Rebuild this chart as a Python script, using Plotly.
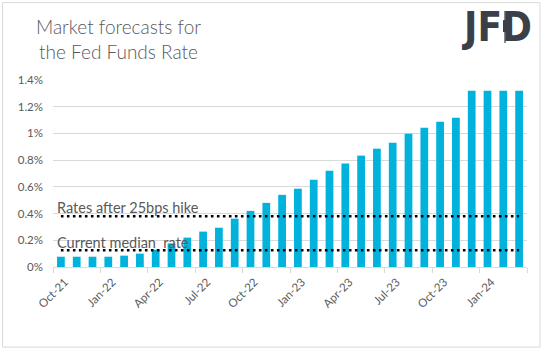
import plotly.graph_objects as go

months = ["Oct-21","Nov-21","Dec-21","Jan-22","Feb-22","Mar-22","Apr-22","May-22","Jun-22",
          "Jul-22","Aug-22","Sep-22","Oct-22","Nov-22","Dec-22","Jan-23","Feb-23","Mar-23",
          "Apr-23","May-23","Jun-23","Jul-23","Aug-23","Sep-23","Oct-23","Nov-23","Dec-23",
          "Jan-24","Feb-24","Mar-24"]
rates = [0.077,0.077,0.077,0.077,0.085,0.10,0.13,0.177,0.22,0.265,0.294,0.362,0.42,0.48,
         0.54,0.586,0.654,0.721,0.774,0.834,0.886,0.931,0.998,1.043,1.088,1.118,1.32,1.32,1.32,1.32]
current_median = 0.125
after_hike = 0.38
tick_labels = months[::3]
y_ticks = [0,0.2,0.4,0.6,0.8,1.0,1.2,1.4]
y_tick_text = ["0%","0.2%","0.4%","0.6%","0.8%","1%","1.2%","1.4%"]

GRAY = "#595959"
LOGO = "#3b4048"
idx = list(range(len(months)))

fig = go.Figure()
fig.add_trace(go.Bar(x=idx, y=rates, marker=dict(color="#00b2dc", line_width=0), width=0.49,
                     hoverinfo="skip"))
for v in (after_hike, current_median):
    fig.add_trace(go.Scatter(x=[idx[0], idx[-1]], y=[v, v], mode="lines",
                             line=dict(color="black", width=2.6, dash="2.6px,3.4px"),
                             hoverinfo="skip"))

fig.update_layout(
    width=543, height=351, showlegend=False,
    margin=dict(l=53, r=16, t=80, b=84),
    paper_bgcolor="white", plot_bgcolor="white",
    font=dict(family="Lato", color=GRAY),
    xaxis=dict(range=[-0.5, 29.5], tickmode="array", tickvals=idx[::3], ticktext=tick_labels,
               tickangle=-45, ticks="", showgrid=False, zeroline=False,
               showline=True, linecolor="#d9d9d9", linewidth=1,
               ticklabelshift=4, ticklabelstandoff=3,
               tickfont=dict(size=11.5, color=GRAY),
               minor=dict(tick0=-0.5, dtick=3, ticks="outside", ticklen=5,
                          tickcolor="#d9d9d9", showgrid=False)),
    yaxis=dict(range=[0, 1.4], tickmode="array", tickvals=y_ticks, ticktext=y_tick_text,
               showgrid=True, gridcolor="#d9d9d9", gridwidth=1, zeroline=False,
               showline=False, ticks="", ticklabelstandoff=9,
               tickfont=dict(size=11.5, color=GRAY)),
)

def px2paper(px, py):
    return (px - 53) / 474, (267.3 - py) / 187.3

ann = []
x, y = px2paper(118, 39)
ann.append(dict(text="Market forecasts for<br>the Fed Funds Rate", x=x, y=y, xref="paper", yref="paper",
                showarrow=False, xanchor="center", yanchor="middle",
                font=dict(family="Lato", size=19, color=GRAY, weight=300)))
ann.append(dict(text="Rates after 25bps hike", x=-0.4, y=0.446, xref="x", yref="y",
                showarrow=False, xanchor="left", yanchor="middle",
                font=dict(family="Lato", size=14.5, color=GRAY)))
ann.append(dict(text="Current median  rate", x=-0.4, y=0.184, xref="x", yref="y",
                showarrow=False, xanchor="left", yanchor="middle",
                font=dict(family="Lato", size=14.5, color=GRAY)))
x, y = px2paper(496, 27)
ann.append(dict(text="<b>JFD</b>", x=x, y=y, xref="paper", yref="paper",
                showarrow=False, xanchor="center", yanchor="middle",
                font=dict(family="DejaVu Sans Condensed", size=40, color=LOGO)))
fig.update_layout(annotations=ann)

# candle in the logo's D
cx0, cy0 = px2paper(501.5, 46)
cx1, cy1 = px2paper(509.0, 8)
fig.add_shape(type="rect", xref="paper", yref="paper", x0=cx0, y0=cy0, x1=cx1, y1=cy1,
              line_width=0, fillcolor="white", layer="above")
lx, ly0 = px2paper(505.0, 43)
_, ly1 = px2paper(505.0, 11)
fig.add_shape(type="line", xref="paper", yref="paper", x0=lx, y0=ly0, x1=lx, y1=ly1,
              line=dict(color=LOGO, width=1.2), layer="above")
bx0, by0 = px2paper(503.0, 32)
bx1, by1 = px2paper(507.0, 20)
fig.add_shape(type="rect", xref="paper", yref="paper", x0=bx0, y0=by0, x1=bx1, y1=by1,
              line_width=0, fillcolor=LOGO, layer="above")

# outer border
x0, y0 = px2paper(2.5, 347.5)
x1, y1 = px2paper(540, 2.5)
fig.add_shape(type="rect", xref="paper", yref="paper", x0=x0, y0=y0, x1=x1, y1=y1,
              line=dict(color="#d9d9d9", width=1), fillcolor="rgba(0,0,0,0)", layer="below")

fig.write_html("out.html")
